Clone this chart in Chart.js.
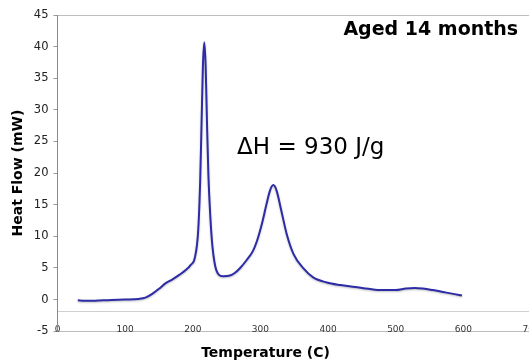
<!DOCTYPE html>
<html>
<head>
<meta charset="utf-8">
<script src="https://cdn.jsdelivr.net/npm/chart.js@4/dist/chart.umd.min.js"></script>
<style>
  html, body { margin: 0; padding: 0; background: #fff; overflow: hidden; }
  #wrap { width: 529px; height: 362px; overflow: hidden; position: relative; }
  canvas { display: block; }
</style>
</head>
<body>
<div id="wrap"><canvas id="dsc" width="566" height="362"></canvas></div>
<script>
// DSC scan: temperature (C) vs heat flow (mW)
const temperatures = [30, 40, 50, 60, 80, 100, 120, 130, 140, 150, 160, 170, 180, 190, 197, 203, 208, 211, 213, 215, 217, 219, 221, 223, 226, 229, 233, 238, 245, 255, 262, 270, 280, 289, 295, 302, 309, 314, 319, 324, 331, 339, 349, 363, 378, 398, 418, 440, 460, 480, 500, 515, 528, 540, 555, 570, 585, 598];
const heatFlow = [-0.1, -0.2, -0.2, -0.15, -0.05, 0, 0.1, 0.3, 0.9, 1.7, 2.6, 3.2, 3.9, 4.7, 5.5, 6.6, 10.9, 19, 28, 37, 40.7, 37, 28, 20, 13, 8.5, 5.4, 4.0, 3.7, 3.8, 4.2, 5.0, 6.3, 7.7, 9.3, 11.9, 15.1, 17.2, 18.1, 17.2, 14.0, 10.3, 7.2, 5.0, 3.5, 2.7, 2.3, 2.0, 1.7, 1.5, 1.5, 1.75, 1.85, 1.75, 1.5, 1.2, 0.9, 0.65];

const xTicks = [0, 100, 200, 300, 400, 500, 600, 700];
const yTicks = [-5, 0, 5, 10, 15, 20, 25, 30, 35, 40, 45];
const xAxisCrossing = -1.9;   // heat-flow value where the temperature axis sits

const sampleLabel = 'Aged 14 months';
const enthalpyLabel = '\u0394H = 930 J/g';

const FONT = "'DejaVu Sans', Verdana, sans-serif";

// Soft shadow under the trace
const shadowPlugin = {
  id: 'traceShadow',
  beforeDatasetsDraw(chart) {
    const ctx = chart.ctx;
    ctx.save();
    ctx.shadowColor = 'rgba(0,0,0,0.25)';
    ctx.shadowBlur = 2;
    ctx.shadowOffsetY = 1;
  },
  afterDatasetsDraw(chart) {
    chart.ctx.restore();
  }
};

// Sample name and enthalpy text placed in data coordinates
const notesPlugin = {
  id: 'notes',
  afterDraw(chart) {
    const { ctx, scales: { x, y } } = chart;
    ctx.save();
    ctx.fillStyle = '#000';
    ctx.textBaseline = 'middle';
    ctx.font = `bold 19px ${FONT}`;
    ctx.textAlign = 'right';
    ctx.fillText(sampleLabel, x.getPixelForValue(681), y.getPixelForValue(42.6));
    ctx.font = `23px ${FONT}`;
    ctx.textAlign = 'left';
    ctx.fillText(enthalpyLabel, x.getPixelForValue(265.5), y.getPixelForValue(23.9));
    ctx.restore();
  }
};

// Horizontal rules: plot frame (top/bottom) and the temperature axis line
function ruleColor(c) {
  if (!c.tick) return 'rgba(0,0,0,0)';
  const v = c.tick.value;
  if (v === 45 || v === -5) return '#bdbdbd';
  if (v === xAxisCrossing) return '#d0d0d0';
  return 'rgba(0,0,0,0)';
}

new Chart(document.getElementById('dsc'), {
  type: 'line',
  data: {
    datasets: [{
      data: temperatures.map((t, i) => ({ x: t, y: heatFlow[i] })),
      borderColor: '#2d2ca6',
      borderWidth: 2,
      pointRadius: 0,
      fill: false,
      cubicInterpolationMode: 'monotone'
    }]
  },
  options: {
    responsive: false,
    animation: false,
    layout: { padding: { left: 0, top: 15, right: 35, bottom: 0 } },
    plugins: {
      legend: { display: false },
      tooltip: { enabled: false },
      title: {
        display: true,
        position: 'bottom',
        text: 'Temperature (C)',
        color: '#000',
        font: { family: FONT, size: 14, weight: 'bold' },
        padding: { top: 14, bottom: 0 }
      }
    },
    scales: {
      x: {
        type: 'linear',
        min: 0,
        max: 700,
        position: { y: xAxisCrossing },
        afterBuildTicks(scale) { scale.ticks = xTicks.map(v => ({ value: v })); },
        ticks: {
          color: '#333',
          font: { family: FONT, size: 9 },
          padding: 5,
          maxRotation: 0
        },
        grid: { display: false },
        border: { display: false }
      },
      y: {
        min: -5,
        max: 45,
        afterBuildTicks(scale) {
          scale.ticks = yTicks.concat([xAxisCrossing]).map(v => ({ value: v }));
        },
        afterFit(scale) { scale.width = 57.5; },
        ticks: {
          color: '#222',
          font: { family: FONT, size: 11.5 },
          padding: 5,
          callback: v => (v === xAxisCrossing ? '' : v)
        },
        grid: {
          color: ruleColor,
          tickColor: c => (c.tick && c.tick.value === xAxisCrossing) ? 'rgba(0,0,0,0)' : '#999',
          tickLength: 4
        },
        border: { color: '#8a8a8a', width: 1 },
        title: {
          display: true,
          text: 'Heat Flow (mW)',
          color: '#000',
          font: { family: FONT, size: 14, weight: 'bold' },
          padding: { top: 10, bottom: 0 }
        }
      }
    }
  },
  plugins: [shadowPlugin, notesPlugin]
});
</script>
</body>
</html>
